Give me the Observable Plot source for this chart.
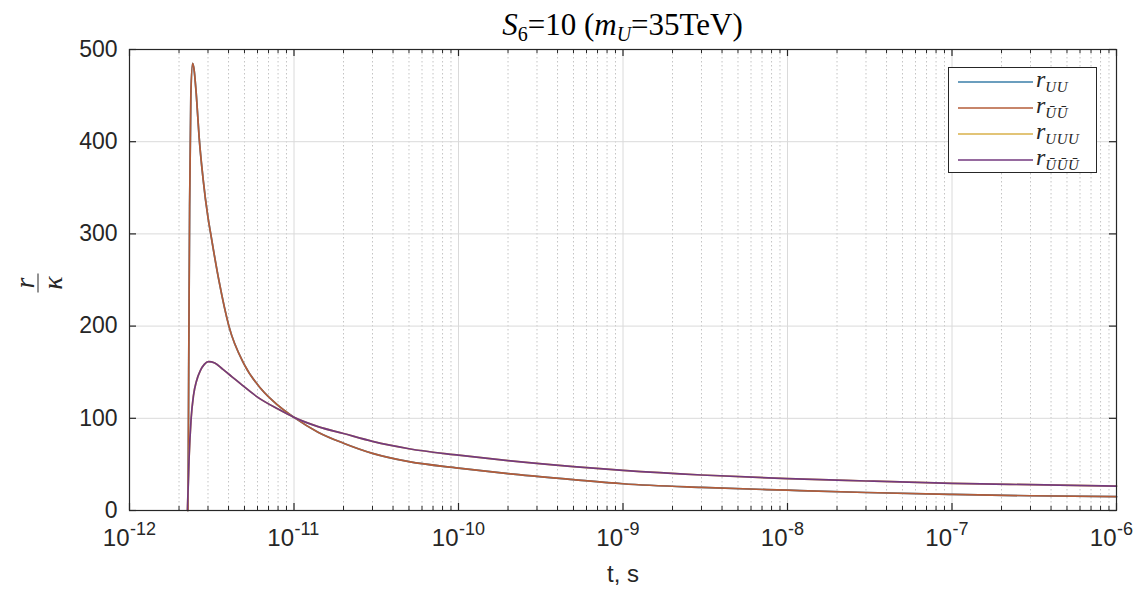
<!DOCTYPE html>
<html><head><meta charset="utf-8">
<script src="https://cdn.jsdelivr.net/npm/d3@7"></script>
<script src="https://cdn.jsdelivr.net/npm/@observablehq/plot@0.6"></script>
<style>
body{margin:0;background:#fff;}
#wrap{position:relative;width:1145px;height:590px;font-family:"Liberation Sans",Arial,sans-serif;overflow:hidden;}
#wrap > svg{position:absolute;left:0;top:0;}
.title{position:absolute;left:129px;width:987px;top:8px;text-align:center;font-family:"Liberation Serif",serif;font-size:31px;color:#000;line-height:34px;white-space:nowrap;}
.title sub{font-size:20px;vertical-align:-6px;line-height:0;}
.ylab{position:absolute;left:38px;top:283px;transform:translate(-50%,-50%) rotate(-90deg);font-family:"Liberation Serif",serif;font-style:italic;font-size:28px;color:#262626;text-align:center;line-height:23px;}
.ylab .bar{border-top:1.4px solid #262626;width:19px;margin:2px auto;}
.legend{position:absolute;left:948px;top:67px;width:149px;height:106px;border:1.3px solid #262626;background:#fff;box-sizing:border-box;}
.legend svg{position:absolute;left:0;top:0;}
.row{position:absolute;left:0;height:26px;width:100%;}
.row .lb{position:absolute;left:87px;top:-3px;font-family:"Liberation Serif",serif;font-style:italic;font-size:24px;color:#262626;line-height:26px;white-space:nowrap;}
.row .lb sub{font-size:15px;vertical-align:-5px;line-height:0;letter-spacing:0.5px;}
</style>
</head><body>
<div id="wrap"></div>
<script>
// ---- data ----
const tPair = [2.27e-12, 2.29e-12, 2.32e-12, 2.36e-12, 2.42e-12, 2.47e-12, 2.55e-12, 2.65e-12, 2.8e-12, 3.0e-12, 3.11e-12, 3.5e-12, 4.02e-12, 5.0e-12, 6.3e-12, 8e-12, 1e-11, 1.4e-11, 2e-11, 3e-11, 5e-11, 1e-10, 2e-10, 5e-10, 1e-9, 3e-9, 1e-8, 3e-8, 1e-7, 3e-7, 1e-6];
const rUU   = [0, 150, 330, 450, 485, 478, 450, 405, 360, 318, 301, 249, 200, 158, 132, 114, 101, 85, 73, 62, 53, 46, 40, 33.5, 29, 25, 22, 19.5, 17.5, 16, 15];
const rUbUb = [0, 150, 330, 450, 485, 478, 450, 405, 360, 318, 301, 249, 200, 158, 132, 114, 101, 85, 73, 62, 53, 46, 40, 33.5, 29, 25, 22, 19.5, 17.5, 16, 15];
const tTrip = [2.25e-12, 2.3e-12, 2.37e-12, 2.45e-12, 2.55e-12, 2.7e-12, 2.85e-12, 3.02e-12, 3.3e-12, 3.7e-12, 4.2e-12, 4.84e-12, 6e-12, 8e-12, 1e-11, 1.4e-11, 2e-11, 3e-11, 5e-11, 1e-10, 2e-10, 5e-10, 1e-9, 3e-9, 1e-8, 3e-8, 1e-7, 3e-7, 1e-6];
const rUUU     = [0, 55, 100, 125, 140, 152, 158.5, 161.5, 160, 153, 145, 136, 123, 110, 101, 91, 83.5, 75, 67, 60, 54, 47.5, 43.5, 38.5, 34.5, 32, 29.5, 28, 26.5];
const rUbUbUb  = [0, 55, 100, 125, 140, 152, 158.5, 161.5, 160, 153, 145, 136, 123, 110, 101, 91, 83.5, 75, 67, 60, 54, 47.5, 43.5, 38.5, 34.5, 32, 29.5, 28, 26.5];
const seriesNames = ["UU", "U\u0304U\u0304", "UUU", "U\u0304U\u0304U\u0304"];
const colors = ["#3a7ea8", "#b45c38", "#d9b04a", "#73397f"];
const xMajor = [1e-12, 1e-11, 1e-10, 1e-9, 1e-8, 1e-7, 1e-6];
const xExp = ["-12", "-11", "-10", "-9", "-8", "-7", "-6"];
const yTicks = [0, 100, 200, 300, 400, 500];
const minorMult = [2, 3, 4, 5, 6, 7, 8, 9];
const titleHTML = '<i>S</i><sub>6</sub>=10 (<i>m</i><sub><i>U</i></sub>=35TeV)';

// ---- build ----
const xMinor = xMajor.slice(0, -1).flatMap(d => minorMult.map(m => m * d));
const mk = (ts, rs, k) => ts.map((t, i) => ({t, r: rs[i], s: seriesNames[k]}));
const lines = [
  mk(tPair, rUU, 0), mk(tPair, rUbUb, 1), mk(tTrip, rUUU, 2), mk(tTrip, rUbUbUb, 3)
];
const W = 1145, H = 590, mL = 129, mR = 29, mT = 49, mB = 80;
const iH = H - mT - mB, iW = W - mL - mR;
const ax = "#262626";
const font = "Liberation Sans, Arial, sans-serif";

const chart = Plot.plot({
  width: W, height: H,
  marginLeft: mL, marginRight: mR, marginTop: mT, marginBottom: mB,
  style: {fontFamily: font, background: "white", color: ax},
  x: {type: "log", domain: [1e-12, 1e-6], axis: null},
  y: {domain: [0, 500], axis: null},
  marks: [
    Plot.ruleX(xMinor, {stroke: "#c4c4c4", strokeDasharray: "1.5,2.5", strokeWidth: 1}),
    Plot.ruleX(xMajor.slice(1, -1), {stroke: "#dadada", strokeWidth: 1}),
    Plot.ruleY(yTicks.slice(1, -1), {stroke: "#dadada", strokeWidth: 1}),
    ...lines.map((L, k) => Plot.line(L, {x: "t", y: "r", stroke: colors[k], strokeWidth: 1.7, curve: "monotone-x"})),
    Plot.frame({stroke: ax, strokeWidth: 1.2}),
    // bottom & top ticks (inward)
    Plot.tickX(xMajor, {x: d => d, insetTop: iH - 7, stroke: ax, strokeWidth: 1.2}),
    Plot.tickX(xMajor, {x: d => d, insetBottom: iH - 7, stroke: ax, strokeWidth: 1.2}),
    Plot.tickX(xMinor, {x: d => d, insetTop: iH - 4, stroke: ax, strokeWidth: 1}),
    Plot.tickX(xMinor, {x: d => d, insetBottom: iH - 4, stroke: ax, strokeWidth: 1}),
    // left & right ticks
    Plot.tickY(yTicks, {y: d => d, insetRight: iW - 7, stroke: ax, strokeWidth: 1.2}),
    Plot.tickY(yTicks, {y: d => d, insetLeft: iW - 7, stroke: ax, strokeWidth: 1.2}),
    // tick labels
    Plot.text(yTicks, {y: d => d, text: d => String(d), frameAnchor: "left", textAnchor: "end", dx: -12, fontSize: 23, fill: ax}),
    Plot.text(xMajor, {x: d => d, text: () => "10", frameAnchor: "bottom", textAnchor: "end", dy: 35, fontSize: 24, fill: ax}),
    Plot.text(xMajor, {x: d => d, text: (d, i) => xExp[i], frameAnchor: "bottom", textAnchor: "start", dy: 24, dx: 0.5, fontSize: 18, fill: ax}),
    Plot.text(["t, s"], {text: d => d, frameAnchor: "bottom", dy: 71, fontSize: 24, fill: ax})
  ]
});

const wrap = document.getElementById("wrap");
wrap.appendChild(chart);

const title = document.createElement("div");
title.className = "title";
title.innerHTML = titleHTML;
wrap.appendChild(title);

const ylab = document.createElement("div");
ylab.className = "ylab";
ylab.innerHTML = '<div>r</div><div class="bar"></div><div>κ</div>';
wrap.appendChild(ylab);

const leg = document.createElement("div");
leg.className = "legend";
const ns = "http://www.w3.org/2000/svg";
const lsvg = document.createElementNS(ns, "svg");
lsvg.setAttribute("width", 149); lsvg.setAttribute("height", 106);
leg.appendChild(lsvg);
seriesNames.forEach((name, k) => {
  const y = 14 + k * 26;
  const ln = document.createElementNS(ns, "line");
  ln.setAttribute("x1", 9); ln.setAttribute("x2", 84);
  ln.setAttribute("y1", y); ln.setAttribute("y2", y);
  ln.setAttribute("stroke", colors[k]); ln.setAttribute("stroke-width", 1.7);
  lsvg.appendChild(ln);
  const row = document.createElement("div");
  row.className = "row";
  row.style.top = (1 + k * 26) + "px";
  row.innerHTML = '<div class="lb">r<sub>' + name + '</sub></div>';
  leg.appendChild(row);
});
wrap.appendChild(leg);
</script>
</body></html>
